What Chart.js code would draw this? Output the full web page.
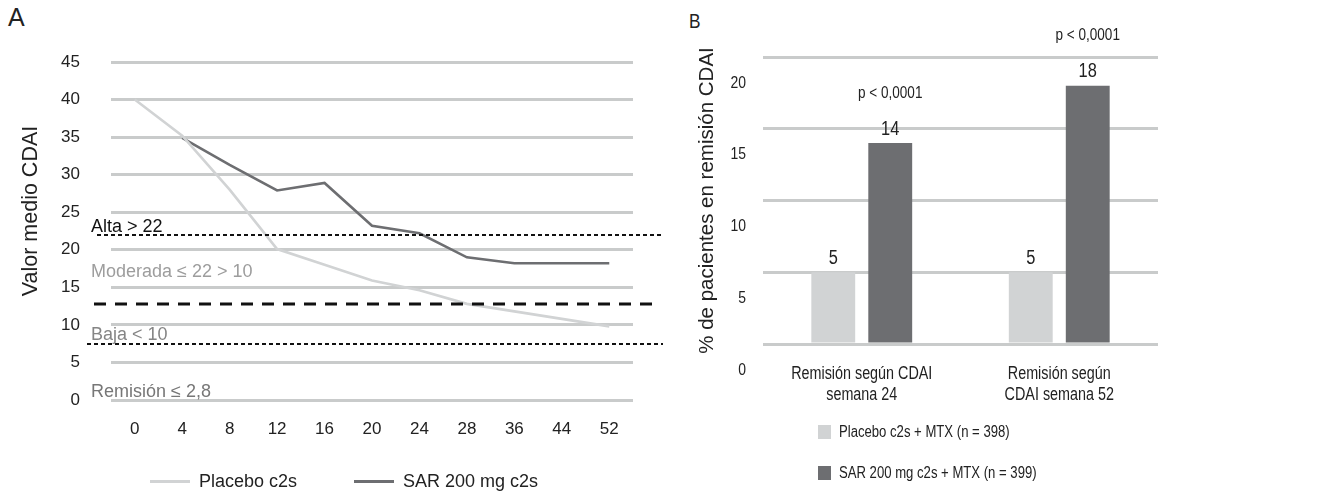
<!DOCTYPE html>
<html lang="es">
<head>
<meta charset="utf-8">
<title>CDAI</title>
<script src="https://cdn.jsdelivr.net/npm/chart.js@4.4.1/dist/chart.umd.min.js"></script>
<style>
  body { margin: 0; background: #fff; }
  #wrap { position: relative; width: 1338px; height: 491px; overflow: hidden; }
  canvas { position: absolute; top: 0; }
  .panel-letter { position: absolute; color: #222; line-height: 1; font-family: 'Liberation Sans', Arial, sans-serif; }
  .legend { position: absolute; color: #222; font-family: 'Liberation Sans', Arial, sans-serif; }
  #legend-a { left: 150px; top: 470px; display: flex; gap: 57px; font-size: 18px; line-height: 22px; }
  #legend-a .item { display: flex; align-items: center; }
  #legend-a .sample { width: 40px; height: 3px; margin-right: 9px; }
  #legend-b { left: 818px; top: 422px; font-size: 16px; }
  #legend-b .item { display: flex; align-items: center; height: 20px; margin-bottom: 21px; white-space: nowrap; }
  #legend-b .box { width: 13px; height: 14px; margin-right: 8px; flex: none; }
  /* panel B uses a condensed face */
  .narrow { display: inline-block; transform: scaleX(0.82); transform-origin: left center; }
</style>
</head>
<body>
<div id="wrap">
  <div class="panel-letter" style="left:8px; top:5px; font-size:25px;">A</div>
  <canvas id="cdai-line" width="670" height="491" style="left:0"></canvas>
  <div class="legend" id="legend-a"></div>

  <div class="panel-letter" style="left:689px; top:10px; font-size:21px;"><span class="narrow">B</span></div>
  <canvas id="cdai-bar" width="668" height="491" style="left:670px"></canvas>
  <div class="legend" id="legend-b"></div>
</div>

<script>
// --- panel A: mean CDAI by week ---
const weeks = ['0', '4', '8', '12', '16', '20', '24', '28', '36', '44', '52'];
const placeboCdai = [40, 35.2, 28, 20.1, 18, 15.9, 14.6, 12.8, 11.8, 10.8, 9.8];
const sarCdai = [null, 34.9, 31.3, 27.9, 28.9, 23.2, 22.2, 19, 18.2, 18.2, 18.2];

// activity cut-offs (high / moderate / low) and the zone captions
const cdaiCutoffs = [22, 12.8, 7.4];
const zoneLabels = ['Alta > 22', 'Moderada ≤ 22 > 10', 'Baja < 10', 'Remisión ≤ 2,8'];
const zoneLabelAt = [23, 17, 8.7, 1.1];

// --- panel B: % of patients in CDAI remission ---
const remissionGroups = [['Remisión según CDAI', 'semana 24'], ['Remisión según', 'CDAI semana 52']];
const placeboRemission = [5, 5];
const sarRemission = [14, 18];
const pValues = ['p < 0,0001', 'p < 0,0001'];

const SANS = "'Liberation Sans', Arial, sans-serif";
const LIGHT = '#d1d3d4';
const DARK = '#6d6e71';
const GRID = '#c9cbcb';
const INK = '#222';
const SQUEEZE = 0.82;

Chart.defaults.font.family = SANS;
Chart.defaults.color = INK;

// text drawn horizontally squeezed (no narrow font available)
function fillNarrow(ctx, text, x, y, align) {
  ctx.save();
  ctx.translate(x, y);
  ctx.scale(SQUEEZE, 1);
  ctx.textAlign = align;
  ctx.fillText(text, 0, 0);
  ctx.restore();
}

// cut-off lines, zone captions and the axis title on the line chart
const cdaiBands = {
  id: 'cdaiBands',
  afterDatasetsDraw(chart) {
    const { ctx, chartArea, scales: { y } } = chart;
    const left = chartArea.left;
    const styles = [
      { dash: [4, 3], width: 2, from: left - 14, to: 663 },
      { dash: [12, 9], width: 3, from: left - 17, to: 657 },
      { dash: [4, 3], width: 2, from: left - 24, to: 663 }
    ];
    ctx.save();
    cdaiCutoffs.forEach((v, i) => {
      const s = styles[i];
      const py = Math.round(y.getPixelForValue(v));
      ctx.beginPath();
      ctx.setLineDash(s.dash);
      ctx.lineWidth = s.width;
      ctx.strokeStyle = '#111';
      ctx.moveTo(s.from, py);
      ctx.lineTo(s.to, py);
      ctx.stroke();
    });
    ctx.setLineDash([]);

    const colors = ['#111', '#9d9d9d', '#858585', '#777'];
    ctx.font = '18px ' + SANS;
    ctx.textAlign = 'left';
    ctx.textBaseline = 'middle';
    zoneLabels.forEach((t, i) => {
      ctx.fillStyle = colors[i];
      ctx.fillText(t, left - 20, y.getPixelForValue(zoneLabelAt[i]));
    });

    // y title sits a little above the axis middle
    ctx.fillStyle = INK;
    ctx.font = '21.5px ' + SANS;
    ctx.translate(37, 211);
    ctx.rotate(-Math.PI / 2);
    ctx.textAlign = 'center';
    ctx.textBaseline = 'alphabetic';
    ctx.fillText('Valor medio CDAI', 0, 0);
    ctx.restore();
  }
};

const lineChart = new Chart(document.getElementById('cdai-line'), {
  type: 'line',
  data: {
    labels: weeks,
    datasets: [
      { label: 'Placebo c2s', data: placeboCdai, borderColor: LIGHT, borderWidth: 2.6 },
      { label: 'SAR 200 mg c2s', data: sarCdai, borderColor: DARK, borderWidth: 2.6 }
    ]
  },
  options: {
    responsive: false,
    animation: false,
    devicePixelRatio: 1,
    layout: { padding: { left: 12, right: 37, top: 62, bottom: 46 } },
    elements: { point: { radius: 0 }, line: { tension: 0 } },
    plugins: { legend: { display: false }, tooltip: { enabled: false } },
    scales: {
      x: {
        offset: true,
        grid: { display: false, drawTicks: false },
        border: { display: false },
        ticks: { padding: 19, maxRotation: 0, autoSkip: false, font: { size: 17 } },
        afterFit: s => { s.height = 45; }
      },
      y: {
        min: 0,
        max: 45,
        grid: { color: GRID, lineWidth: 3, drawTicks: false },
        border: { display: false },
        ticks: { stepSize: 5, padding: 31, font: { size: 17 } },
        afterFit: s => { s.width = 99; }
      }
    }
  },
  plugins: [cdaiBands]
});

// category and tick labels, bar values and p-values, all in the squeezed face
const barNotes = {
  id: 'barNotes',
  afterDatasetsDraw(chart) {
    const { ctx, chartArea, scales: { x, y } } = chart;
    ctx.save();
    ctx.fillStyle = INK;
    ctx.textBaseline = 'middle';

    ctx.font = '17.5px ' + SANS;
    chart.data.labels.forEach((lines, i) => {
      const px = x.getPixelForValue(i);
      lines.forEach((ln, k) => fillNarrow(ctx, ln, px, chartArea.bottom + 30 + k * 21, 'center'));
    });

    ctx.font = '17px ' + SANS;
    y.ticks.forEach(t => {
      fillNarrow(ctx, String(t.value), chartArea.left - 17, y.getPixelForValue(t.value) + 26, 'right');
    });

    ctx.font = '20px ' + SANS;
    chart.data.datasets.forEach((ds, di) => {
      chart.getDatasetMeta(di).data.forEach((bar, i) => {
        fillNarrow(ctx, String(ds.data[i]), bar.x, bar.y - 14, 'center');
      });
    });

    ctx.font = '16.5px ' + SANS;
    const sarBars = chart.getDatasetMeta(1).data;
    pValues.forEach((p, i) => {
      fillNarrow(ctx, p, sarBars[i].x, sarBars[i].y - 50, 'center');
    });
    ctx.restore();
  }
};

const barChart = new Chart(document.getElementById('cdai-bar'), {
  type: 'bar',
  data: {
    labels: remissionGroups,
    datasets: [
      { label: 'Placebo c2s + MTX (n = 398)', data: placeboRemission, backgroundColor: LIGHT },
      { label: 'SAR 200 mg c2s + MTX (n = 399)', data: sarRemission, backgroundColor: DARK }
    ]
  },
  options: {
    responsive: false,
    animation: false,
    devicePixelRatio: 1,
    categoryPercentage: 0.577,
    barPercentage: 0.77,
    layout: { padding: { left: 20, right: 180, top: 57, bottom: 77 } },
    plugins: { legend: { display: false }, tooltip: { enabled: false } },
    scales: {
      x: {
        grid: { display: false },
        border: { display: false },
        ticks: { display: false },
        afterFit: s => { s.height = 70; }
      },
      y: {
        min: 0,
        max: 20,
        grid: { color: GRID, lineWidth: 3, drawTicks: false },
        border: { display: false },
        ticks: { stepSize: 5, display: false },
        title: { display: true, text: '% de pacientes en remisión CDAI', font: { size: 20.5 }, padding: { top: 5, bottom: 0 } },
        afterFit: s => { s.width = 73; }
      }
    }
  },
  plugins: [barNotes]
});

// html legends built from the datasets
function buildLegend(chart, el, kind, squeeze) {
  chart.data.datasets.forEach(ds => {
    const item = document.createElement('div');
    item.className = 'item';
    const mark = document.createElement('span');
    mark.className = kind;
    mark.style.background = ds.borderColor || ds.backgroundColor;
    const label = document.createElement('span');
    if (squeeze) label.className = 'narrow';
    label.textContent = ds.label;
    item.appendChild(mark);
    item.appendChild(label);
    el.appendChild(item);
  });
}
buildLegend(lineChart, document.getElementById('legend-a'), 'sample', false);
buildLegend(barChart, document.getElementById('legend-b'), 'box', true);
</script>
</body>
</html>
